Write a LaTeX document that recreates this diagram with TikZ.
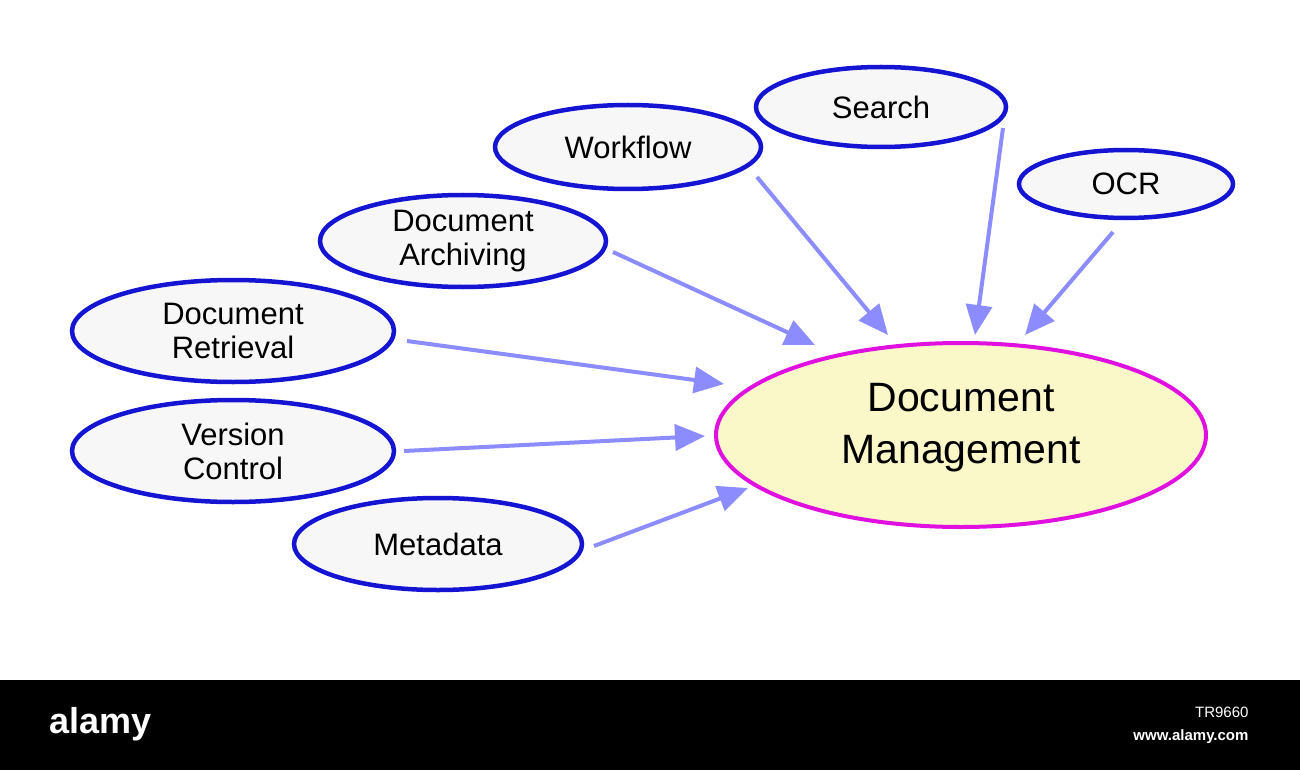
\documentclass[tikz,border=0pt]{standalone}
\usepackage{fontspec}
\setmainfont{Liberation Sans}
\usetikzlibrary{shapes.geometric,arrows.meta}
\definecolor{nodeblue}{HTML}{1414D2}
\definecolor{arrowc}{HTML}{8C8CFF}
\definecolor{mainfill}{HTML}{FAF8C8}
\definecolor{mainedge}{HTML}{E010E0}
\tikzset{
 sat/.style={ellipse,draw=nodeblue,line width=4.5pt,fill=black!3,inner sep=0pt,align=center,font=\fontsize{31}{34}\selectfont},
 arr/.style={draw=arrowc,line width=4pt,-{Triangle[length=30pt,width=26pt]}}
}
\begin{document}
\begin{tikzpicture}[x=1pt,y=-1pt]
\useasboundingbox (0,0) rectangle (1300,770);
\fill[white] (0,0) rectangle (1300,680);
\node[sat,minimum width=266pt,minimum height=84pt] (wf) at (628,147) {Workflow};
\node[sat,minimum width=250pt,minimum height=80pt] (se) at (881,107) {Search};
\node[sat,minimum width=214pt,minimum height=68pt] (ocr) at (1126,184) {OCR};
\node[sat,minimum width=286pt,minimum height=92pt] (ar) at (463,241) {Document\\Archiving};
\node[sat,minimum width=322pt,minimum height=102pt] (re) at (233,331) {Document\\Retrieval};
\node[sat,minimum width=322pt,minimum height=102pt] (ve) at (233,451) {Version\\Control};
\node[sat,minimum width=288pt,minimum height=92pt] (me) at (438,544) {Metadata};
\node[ellipse,draw=mainedge,fill=mainfill,line width=4pt,minimum width=490pt,minimum height=184pt,inner sep=0pt] (dm) at (961,435) {};
\node[align=center,font=\fontsize{41}{52}\selectfont] (dmt) at (961,428) {Document\\Management};
\coordinate (wfs) at (757,177); \coordinate (wfe) at (888,335);
\coordinate (ses) at (1003,128); \coordinate (see) at (975,335);
\coordinate (ocs) at (1113,232); \coordinate (oce) at (1025,335);
\coordinate (ars) at (613,252); \coordinate (are) at (815,345);
\coordinate (res) at (407,341); \coordinate (ree) at (724,384);
\coordinate (ves) at (404,451); \coordinate (vee) at (705,436);
\coordinate (mes) at (594,546); \coordinate (mee) at (748,488);
\draw[arr] (wfs) -- (wfe);
\draw[arr] (ses) -- (see);
\draw[arr] (ocs) -- (oce);
\draw[arr] (ars) -- (are);
\draw[arr] (res) -- (ree);
\draw[arr] (ves) -- (vee);
\draw[arr] (mes) -- (mee);
\fill[black] (0,680) rectangle (1300,770);
\node[white,font=\fontsize{36}{36}\selectfont\bfseries,anchor=west] (al) at (46,724) {alamy};
\node[white,font=\fontsize{15}{15}\selectfont,anchor=east] (id) at (1252,712) {TR9660};
\node[white,font=\fontsize{15}{15}\selectfont\bfseries,anchor=east] (ww) at (1252,737) {www.alamy.com};
\end{tikzpicture}
\end{document}
